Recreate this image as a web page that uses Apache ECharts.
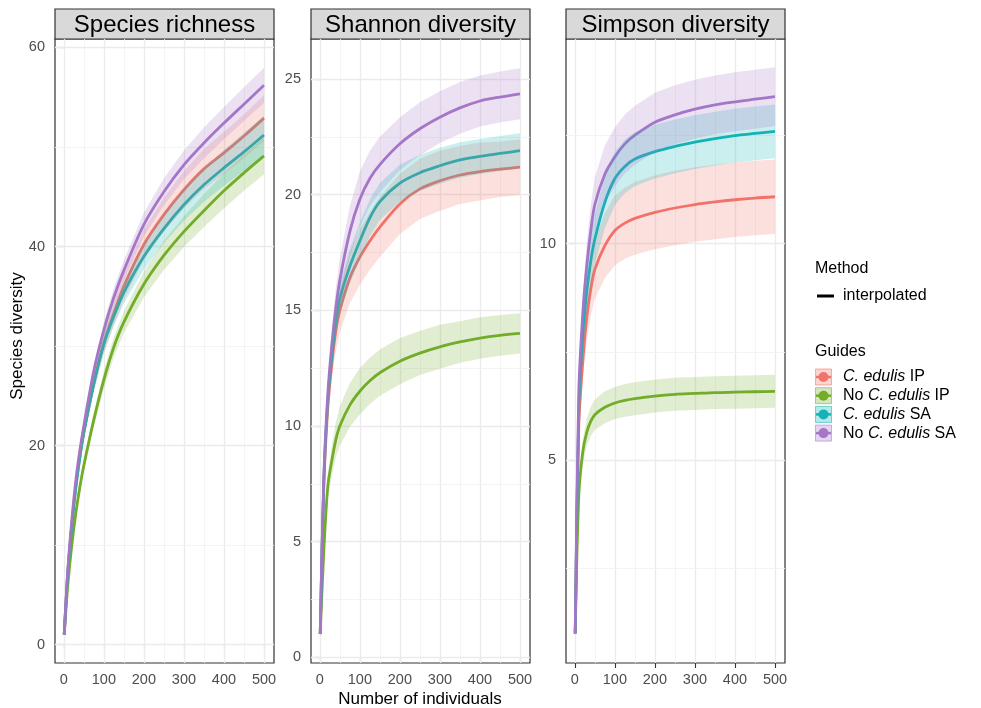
<!DOCTYPE html>
<html lang="en">
<head>
<meta charset="UTF-8">
<title>Rarefaction curves</title>
<style>
  * { padding: 0; margin: 0; }
  body { background: #fff; }
</style>
</head>
<body>
<div id="main" style="width: 981px;height:708px;"></div>
<script src="https://cdn.jsdelivr.net/npm/echarts@6/dist/echarts.min.js"></script>
<script>
// number of individuals (sample size) where the curves were read
var sizes = [1, 10, 20, 30, 40, 50, 75, 100, 125, 150, 200, 250, 300, 350, 400, 450, 500];

var guides = ['C. edulis IP', 'No C. edulis IP', 'C. edulis SA', 'No C. edulis SA'];
var colors = ['#F2736A', '#72AC28', '#14B3B8', '#A676C8'];

// Species richness
var richIP     = [1, 7.2, 12, 15.8, 18.8, 21.3, 26.3, 30.3, 33.3, 36, 40.2, 43.2, 45.7, 47.8, 49.4, 51.1, 52.9];
var richNoIP   = [1, 6, 10, 13.2, 15.8, 18, 22.6, 26.6, 29.9, 32.4, 36.2, 39.1, 41.5, 43.6, 45.6, 47.4, 49.1];
var richSA     = [1, 7.2, 12, 15.8, 18.8, 21.3, 26.2, 30.2, 33, 35.4, 39, 41.8, 44.2, 46.2, 47.9, 49.5, 51.2];
var richNoSA   = [1, 7.5, 12.5, 16.5, 19.5, 22, 27.5, 31.6, 34.9, 37.6, 42.2, 45.5, 48.2, 50.4, 52.4, 54.3, 56.2];
var ciRichIP   = [0, 0.2, 0.35, 0.45, 0.55, 0.65, 0.85, 1, 1.15, 1.3, 1.5, 1.7, 1.85, 2, 2.1, 2.2, 2.3];
var ciRichNoIP = [0, 0.2, 0.3, 0.4, 0.5, 0.6, 0.75, 0.9, 1, 1.1, 1.3, 1.45, 1.55, 1.65, 1.75, 1.8, 1.85];
var ciRichSA   = [0, 0.2, 0.3, 0.4, 0.5, 0.6, 0.75, 0.9, 1, 1.1, 1.3, 1.45, 1.6, 1.7, 1.8, 1.9, 1.95];
var ciRichNoSA = [0, 0.2, 0.3, 0.4, 0.5, 0.55, 0.7, 0.85, 0.95, 1.05, 1.2, 1.35, 1.45, 1.55, 1.62, 1.7, 1.75];

// Shannon diversity
var shanIP     = [1, 7.4, 10.8, 12.7, 14.1, 15, 16.4, 17.3, 18, 18.6, 19.6, 20.25, 20.6, 20.85, 21, 21.1, 21.19];
var shanNoIP   = [1, 4.6, 7.4, 8.5, 9.4, 10, 10.9, 11.5, 11.95, 12.3, 12.8, 13.15, 13.42, 13.63, 13.8, 13.92, 14];
var shanSA     = [1, 7.6, 11.1, 13, 14.5, 15.5, 16.9, 18, 19, 19.7, 20.5, 20.95, 21.25, 21.5, 21.65, 21.78, 21.9];
var shanNoSA   = [1, 7.8, 11.4, 13.5, 15.1, 16.3, 18.4, 19.8, 20.7, 21.3, 22.2, 22.85, 23.35, 23.75, 24.05, 24.22, 24.36];
var ciShanIP   = [0, 0.3, 0.5, 0.7, 0.85, 0.95, 1.1, 1.2, 1.25, 1.3, 1.3, 1.3, 1.3, 1.25, 1.25, 1.2, 1.2];
var ciShanNoIP = [0, 0.3, 0.5, 0.65, 0.75, 0.85, 0.95, 1, 1, 1, 1, 0.95, 0.95, 0.9, 0.9, 0.88, 0.87];
var ciShanSA   = [0, 0.25, 0.4, 0.5, 0.6, 0.65, 0.75, 0.8, 0.8, 0.8, 0.8, 0.78, 0.78, 0.77, 0.76, 0.76, 0.75];
var ciShanNoSA = [0, 0.3, 0.5, 0.7, 0.85, 0.95, 1.1, 1.2, 1.2, 1.2, 1.15, 1.15, 1.12, 1.12, 1.1, 1.1, 1.1];

// Simpson diversity
var simpIP     = [1, 5.8, 7.3, 8.3, 8.95, 9.4, 9.95, 10.3, 10.47, 10.58, 10.72, 10.82, 10.9, 10.96, 11.01, 11.05, 11.08];
var simpNoIP   = [1, 4.2, 5.2, 5.65, 5.9, 6.05, 6.22, 6.32, 6.38, 6.42, 6.48, 6.52, 6.54, 6.56, 6.57, 6.58, 6.59];
var simpSA     = [1, 6.2, 7.9, 8.9, 9.6, 10.1, 10.95, 11.5, 11.78, 11.95, 12.12, 12.24, 12.34, 12.42, 12.49, 12.54, 12.59];
var simpNoSA   = [1, 6.6, 8.4, 9.5, 10.3, 10.9, 11.6, 12, 12.3, 12.5, 12.8, 12.97, 13.1, 13.2, 13.27, 13.33, 13.39];
var ciSimpIP   = [0, 0.3, 0.45, 0.55, 0.62, 0.68, 0.75, 0.8, 0.82, 0.84, 0.85, 0.86, 0.86, 0.86, 0.86, 0.86, 0.86];
var ciSimpNoIP = [0, 0.2, 0.28, 0.32, 0.34, 0.35, 0.37, 0.37, 0.38, 0.38, 0.38, 0.38, 0.38, 0.38, 0.38, 0.38, 0.38];
var ciSimpSA   = [0, 0.3, 0.42, 0.5, 0.55, 0.58, 0.6, 0.61, 0.62, 0.62, 0.62, 0.62, 0.62, 0.62, 0.62, 0.62, 0.62];
var ciSimpNoSA = [0, 0.3, 0.45, 0.55, 0.6, 0.63, 0.66, 0.68, 0.68, 0.68, 0.68, 0.68, 0.68, 0.68, 0.68, 0.68, 0.68];

// ticks
var xTicks     = [0, 100, 200, 300, 400, 500];
var xMinor     = [50, 150, 250, 350, 450];
var richTicks  = [0, 20, 40, 60];
var richMinor  = [10, 30, 50];
var shanTicks  = [0, 5, 10, 15, 20, 25];
var shanMinor  = [2.5, 7.5, 12.5, 17.5, 22.5];
var simpTicks  = [5, 10];
var simpMinor  = [2.5, 7.5, 12.5];

var FONT = '"Liberation Sans", Arial, sans-serif';

var panels = [
    { title: 'Species richness', est: [richIP, richNoIP, richSA, richNoSA], ci: [ciRichIP, ciRichNoIP, ciRichSA, ciRichNoSA],
      ticks: richTicks, minor: richMinor, ymin: -1.85, ymax: 60.85, left: 55 },
    { title: 'Shannon diversity', est: [shanIP, shanNoIP, shanSA, shanNoSA], ci: [ciShanIP, ciShanNoIP, ciShanSA, ciShanNoSA],
      ticks: shanTicks, minor: shanMinor, ymin: -0.25, ymax: 26.73, left: 311 },
    { title: 'Simpson diversity', est: [simpIP, simpNoIP, simpSA, simpNoSA], ci: [ciSimpIP, ciSimpNoIP, ciSimpSA, ciSimpNoSA],
      ticks: simpTicks, minor: simpMinor, ymin: 0.32, ymax: 14.72, left: 566 }
];
var TOP = 39, H = 624, W = 219, STRIP = 30;

function rgba(hex, a) {
    var n = parseInt(hex.slice(1), 16);
    return 'rgba(' + (n >> 16) + ',' + ((n >> 8) & 255) + ',' + (n & 255) + ',' + a + ')';
}

// confidence band drawn as one polygon through the axis scales
function ribbon(gi, est, ci, color) {
    var rows = sizes.map(function (x, i) { return [x, est[i] - ci[i], est[i] + ci[i]]; });
    return {
        type: 'custom', xAxisIndex: gi, yAxisIndex: gi, z: 3, silent: true,
        data: rows, encode: { x: 0, y: [1, 2] },
        renderItem: function (params, api) {
            if (params.dataIndex !== 0) return null;
            var upper = rows.map(function (r) { return api.coord([r[0], r[2]]); });
            var lower = rows.map(function (r) { return api.coord([r[0], r[1]]); }).reverse();
            return {
                type: 'polygon',
                shape: { points: upper.concat(lower) },
                style: { fill: rgba(color, 0.22), stroke: null }
            };
        }
    };
}

var grids = [], xAxes = [], yAxes = [], series = [], graphics = [];

panels.forEach(function (p, gi) {
    grids.push({ left: p.left, top: TOP, width: W, height: H, show: true,
                 borderColor: '#333', borderWidth: 1.2, backgroundColor: '#fff', containLabel: false });
    xAxes.push({
        type: 'value', gridIndex: gi, min: -22, max: 525,
        axisLine: { show: false }, splitLine: { show: false },
        axisTick: { customValues: xTicks, length: 5, lineStyle: { color: '#333', width: 1.1 } },
        axisLabel: { customValues: xTicks, color: '#4D4D4D', fontSize: 14.5, fontFamily: FONT, margin: 9 }
    });
    yAxes.push({
        type: 'value', gridIndex: gi, min: p.ymin, max: p.ymax,
        axisLine: { show: false }, splitLine: { show: false },
        axisTick: { customValues: p.ticks, length: 5, lineStyle: { color: '#333', width: 1.1 } },
        axisLabel: { customValues: p.ticks, color: '#4D4D4D', fontSize: 14.5, fontFamily: FONT, margin: 10 }
    });

    // panel grid lines
    var major = { color: '#EBEBEB', width: 1.3, type: 'solid' };
    var minorSt = { color: '#F3F3F3', width: 0.9, type: 'solid' };
    var ml = [];
    xTicks.forEach(function (v) { ml.push({ xAxis: v, lineStyle: major }); });
    xMinor.forEach(function (v) { ml.push({ xAxis: v, lineStyle: minorSt }); });
    p.ticks.forEach(function (v) { ml.push({ yAxis: v, lineStyle: major }); });
    p.minor.forEach(function (v) { ml.push({ yAxis: v, lineStyle: minorSt }); });
    series.push({
        type: 'line', xAxisIndex: gi, yAxisIndex: gi, data: [], z: 1, silent: true,
        markLine: { silent: true, symbol: 'none', label: { show: false }, animation: false, z: 1, data: ml }
    });

    guides.forEach(function (g, si) {
        var est = p.est[si];
        series.push({
            name: g, type: 'line', xAxisIndex: gi, yAxisIndex: gi, z: 2,
            smooth: 0.3, showSymbol: false, silent: true,
            lineStyle: { color: colors[si], width: 2.8 },
            data: sizes.map(function (x, i) { return [x, est[i]]; })
        });
        series.push(ribbon(gi, est, p.ci[si], colors[si]));
    });

    // facet strip
    graphics.push({
        type: 'rect', shape: { x: p.left, y: TOP - STRIP, width: W, height: STRIP },
        style: { fill: '#D9D9D9', stroke: '#333', lineWidth: 1.2 }
    });
    graphics.push({
        type: 'text', x: p.left + W / 2, y: TOP - STRIP / 2 + 1,
        style: { text: p.title, fill: '#000', font: '24px ' + FONT, align: 'center', verticalAlign: 'middle' }
    });
});

// axis titles
graphics.push({
    type: 'text', x: 420, y: 699,
    style: { text: 'Number of individuals', fill: '#000', font: '17px ' + FONT, align: 'center', verticalAlign: 'middle' }
});
graphics.push({
    type: 'text', x: 17, y: 336, rotation: Math.PI / 2,
    style: { text: 'Species diversity', fill: '#000', font: '17px ' + FONT, align: 'center', verticalAlign: 'middle' }
});

// legend
graphics.push({ type: 'text', x: 815, y: 269,
    style: { text: 'Method', fill: '#000', font: '16px ' + FONT, verticalAlign: 'middle' } });
graphics.push({ type: 'line', shape: { x1: 817, y1: 296, x2: 834, y2: 296 }, style: { stroke: '#000', lineWidth: 3 } });
graphics.push({ type: 'text', x: 843, y: 296,
    style: { text: 'interpolated', fill: '#000', font: '16px ' + FONT, verticalAlign: 'middle' } });
graphics.push({ type: 'text', x: 815, y: 352,
    style: { text: 'Guides', fill: '#000', font: '16px ' + FONT, verticalAlign: 'middle' } });

var legendText = ['{i|C. edulis}{n| IP}', '{n|No }{i|C. edulis}{n| IP}', '{i|C. edulis}{n| SA}', '{n|No }{i|C. edulis}{n| SA}'];
guides.forEach(function (g, si) {
    var cy = 377 + si * 18.7;
    graphics.push({ type: 'rect', shape: { x: 815.5, y: cy - 8, width: 16, height: 16 },
        style: { fill: rgba(colors[si], 0.3), stroke: rgba(colors[si], 0.55), lineWidth: 1 } });
    graphics.push({ type: 'line', shape: { x1: 816, y1: cy, x2: 831, y2: cy },
        style: { stroke: colors[si], lineWidth: 2.5 } });
    graphics.push({ type: 'circle', shape: { cx: 823.5, cy: cy, r: 5 }, style: { fill: colors[si] } });
    graphics.push({ type: 'text', x: 843, y: cy,
        style: { text: legendText[si], fill: '#000', verticalAlign: 'middle',
                 rich: { i: { fontStyle: 'italic', fontSize: 16, fontFamily: FONT, fill: '#000' },
                         n: { fontSize: 16, fontFamily: FONT, fill: '#000' } } } });
});

var option = {
    animation: false,
    backgroundColor: '#fff',
    grid: grids,
    xAxis: xAxes,
    yAxis: yAxes,
    series: series,
    graphic: graphics
};

var myChart = echarts.init(document.getElementById('main'));
myChart.setOption(option);
</script>
</body>
</html>
